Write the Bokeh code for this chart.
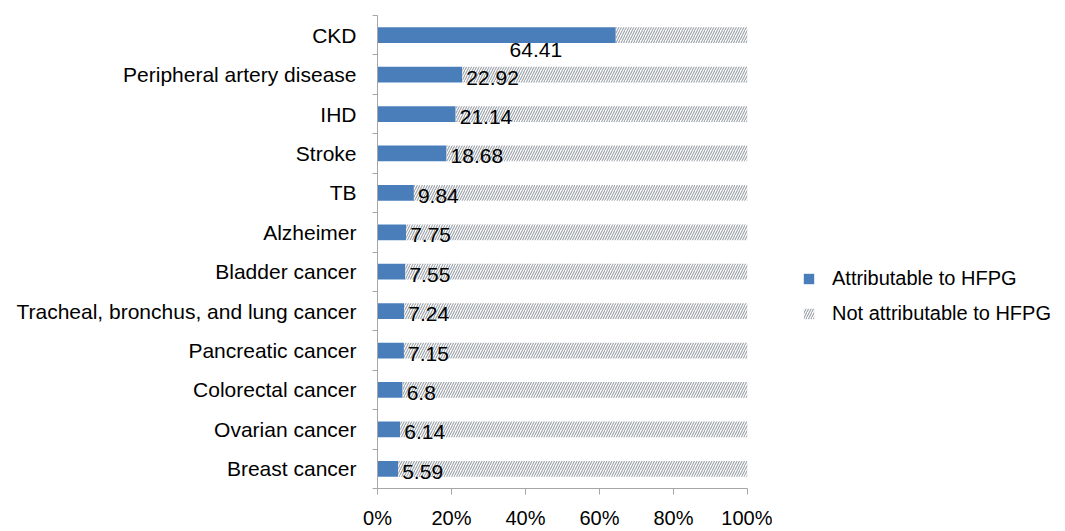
from bokeh.plotting import figure
from bokeh.layouts import row
from bokeh.models import Range1d, FixedTicker, ColumnDataSource, Legend, LegendItem
from bokeh.core.properties import value
from bokeh.embed import file_html
from bokeh.resources import INLINE

categories = ["CKD", "Peripheral artery disease", "IHD", "Stroke", "TB", "Alzheimer",
              "Bladder cancer", "Tracheal, bronchus, and lung cancer", "Pancreatic cancer",
              "Colorectal cancer", "Ovarian cancer", "Breast cancer"]
attributable = [64.41, 22.92, 21.14, 18.68, 9.84, 7.75, 7.55, 7.24, 7.15, 6.8, 6.14, 5.59]
x_ticks = [0, 20, 40, 60, 80, 100]
x_tick_labels = ["0%", "20%", "40%", "60%", "80%", "100%"]
series_names = ["Attributable to HFPG", "Not attributable to HFPG"]

FONT = "Liberation Sans"
BLUE = "#4a7ebb"
HATCH = dict(fill_color="white", line_color=None, hatch_pattern="/",
             hatch_color="#9aa1a8", hatch_scale=5, hatch_weight=1.1)

n = len(categories)
ypos = [n - i - 0.5 for i in range(n)]
total = [100.0] * n
labels = [str(v) for v in attributable]

src = ColumnDataSource(dict(y=ypos, a=attributable, t=total, lab=labels, cat=categories))

H = 531
p = figure(width=772, height=H, output_backend="svg", toolbar_location=None,
           x_range=Range1d(0, 100), y_range=Range1d(0, n),
           min_border_left=377, min_border_right=25, min_border_top=15, min_border_bottom=43)
p.outline_line_color = None
p.xgrid.grid_line_color = None
p.ygrid.grid_line_color = None

p.hbar(y="y", left=0, right="a", height=0.4, source=src, fill_color=BLUE, line_color=None)
p.hbar(y="y", left="a", right="t", height=0.4, source=src, **HATCH)

# value labels
src_rest = ColumnDataSource(dict(y=ypos[1:], a=attributable[1:], lab=labels[1:]))
p.text(x="a", y="y", text="lab", source=src_rest, x_offset=4, y_offset=3,
       text_align="left", text_baseline="middle", text_font=value(FONT),
       text_font_size="21px", text_color="black")
src_first = ColumnDataSource(dict(y=ypos[:1], a=attributable[:1], lab=labels[:1]))
p.text(x="a", y="y", text="lab", source=src_first, x_offset=-80, y_offset=15,
       text_align="center", text_baseline="middle", text_font=value(FONT),
       text_font_size="21px", text_color="black")

# axes
ax = p.xaxis[0]
ax.ticker = FixedTicker(ticks=x_ticks)
ax.major_label_overrides = {t: l for t, l in zip(x_ticks, x_tick_labels)}
ax.axis_line_color = "#a6a6a6"
ax.major_tick_line_color = "#a6a6a6"
ax.major_tick_out = 6
ax.major_tick_in = 0
ax.minor_tick_line_color = None
ax.major_label_standoff = 12
ax.major_label_text_font = FONT
ax.major_label_text_font_size = "20px"
ax.major_label_text_color = "black"

ay = p.yaxis[0]
ay.ticker = FixedTicker(ticks=ypos, minor_ticks=list(range(n + 1)))
ay.major_label_overrides = {y: c for y, c in zip(ypos, categories)}
ay.axis_line_color = "#a6a6a6"
ay.major_tick_line_color = None
ay.major_tick_out = 0
ay.major_tick_in = 0
ay.minor_tick_line_color = "#a6a6a6"
ay.minor_tick_out = 5
ay.minor_tick_in = 0
ay.major_label_standoff = 16
ay.major_label_text_font = FONT
ay.major_label_text_font_size = "21px"
ay.major_label_text_color = "black"

# legend panel (swatch renderers kept outside the visible range)
pl = figure(width=288, height=H, output_backend="svg", toolbar_location=None,
            x_range=Range1d(0, 1), y_range=Range1d(0, 1),
            x_axis_location=None, y_axis_location=None,
            min_border_left=0, min_border_right=0, min_border_top=0, min_border_bottom=0)
pl.outline_line_color = None
pl.xgrid.grid_line_color = None
pl.ygrid.grid_line_color = None
hidden = ColumnDataSource(dict(y=[10.0], l=[10.0], r=[11.0]))
l1 = pl.hbar(y="y", left="l", right="r", height=0.4, source=hidden, fill_color=BLUE, line_color=None)
l2 = pl.hbar(y="y", left="l", right="r", height=0.4, source=hidden, **HATCH)

legend = Legend(items=[LegendItem(label=series_names[0], renderers=[l1]),
                       LegendItem(label=series_names[1], renderers=[l2])],
                location=(30, 163), orientation="vertical",
                glyph_width=13, glyph_height=13, label_standoff=17, spacing=12,
                padding=0, margin=0, border_line_color=None, background_fill_alpha=0,
                label_text_font=FONT, label_text_font_size="20px", label_text_color="black")
pl.add_layout(legend, "center")

layout = row(p, pl)
open("out.html", "w").write(file_html(layout, INLINE))
